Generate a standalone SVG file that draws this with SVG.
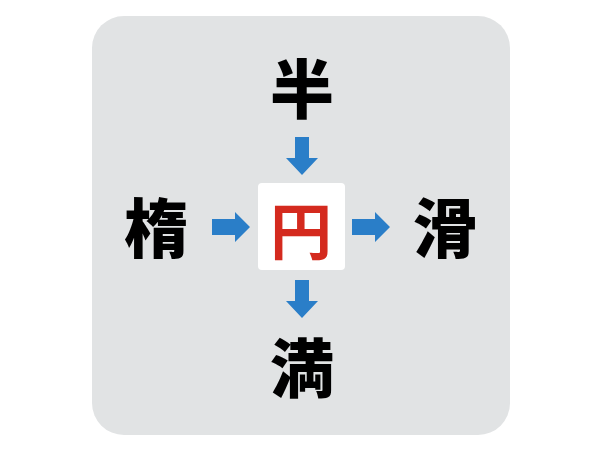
<svg xmlns="http://www.w3.org/2000/svg" width="600" height="450" viewBox="0 0 600 450">
<defs>
<style>
.ch{font-family:"Noto Sans CJK JP","Noto Sans CJK SC",sans-serif;font-weight:900;font-size:64px;text-anchor:middle;dominant-baseline:central;fill:#000}
.arr{fill:#2a7ec8}
</style>
</defs>
<rect x="92" y="16" width="418" height="419" rx="32" fill="#e1e3e4"/>
<g id="connectors">
<path class="arr" d="M295 137 H309 V158 H318 L302 175 L286 158 H295 Z"/>
<path class="arr" d="M295 280 H309 V301 H318 L302 318 L286 301 H295 Z"/>
<path class="arr" d="M212 219 H235 V212 L250 227 L235 242 V235 H212 Z"/>
<path class="arr" d="M352 219 H375 V212 L390 227 L375 242 V235 H352 Z"/>
</g>
<g id="top"><text class="ch" x="302" y="85">半</text></g>
<g id="left"><text class="ch" x="156" y="224">楕</text></g>
<g id="right"><text class="ch" x="445" y="224">滑</text></g>
<g id="bottom"><text class="ch" x="302" y="364">満</text></g>
<g id="center">
<rect x="258" y="183" width="87" height="87" rx="4" fill="#ffffff"/>
<text class="ch" x="301" y="228" style="fill:#d42a1e;font-weight:700;font-size:62px">円</text>
</g>
</svg>
